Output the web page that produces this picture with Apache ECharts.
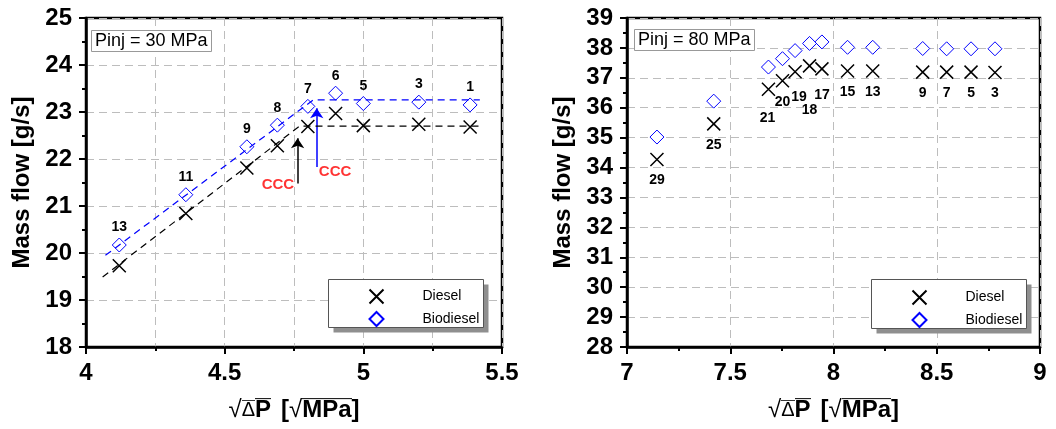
<!DOCTYPE html>
<html>
<head>
<meta charset="utf-8">
<script src="https://cdn.jsdelivr.net/npm/echarts@6/dist/echarts.min.js"></script>
<style>
  html, body { margin: 0; padding: 0; background: #fff; }
  #chart { width: 1056px; height: 429px; }
</style>
</head>
<body>
<div id="chart"></div>
<script>
// Pinj = 30 MPa
const runs30 = [13, 11, 9, 8, 7, 6, 5, 3, 1]
const dp30 = [4.12, 4.36, 4.58, 4.69, 4.80, 4.90, 5.00, 5.20, 5.385]
const diesel30 = [19.73, 20.84, 21.81, 22.28, 22.69, 22.97, 22.71, 22.74, 22.68]
const biodiesel30 = [20.17, 21.24, 22.26, 22.72, 23.12, 23.40, 23.18, 23.21, 23.15]
// dashed trend lines
const dieselTrendX = [4.06, 4.77, 5.43]
const dieselTrendY = [19.49, 22.70, 22.70]
const bioTrendX = [4.07, 4.82, 5.42]
const bioTrendY = [19.95, 23.26, 23.26]
// CCC arrows (diesel, biodiesel)
const cccArrowX = [4.763, 4.832]
const cccArrowFrom = [21.48, 21.83]
const cccArrowTo = [22.44, 23.08]
const cccLabelX = [4.692, 4.898]
const cccLabelY = [21.44, 21.73]

// Pinj = 80 MPa
const runs80 = [29, 25, 21, 20, 19, 18, 17, 15, 13, 9, 7, 5, 3]
const dp80 = [7.145, 7.42, 7.685, 7.753, 7.814, 7.884, 7.944, 8.068, 8.19, 8.432, 8.548, 8.666, 8.782]
const diesel80 = [34.27, 35.46, 36.62, 36.90, 37.20, 37.40, 37.30, 37.23, 37.23, 37.19, 37.19, 37.19, 37.18]
const biodiesel80 = [35.02, 36.22, 37.36, 37.64, 37.91, 38.15, 38.20, 38.02, 38.02, 37.98, 37.97, 37.97, 37.97]

const FONT = 'Liberation Sans, Arial, sans-serif'
const CROSS = 'path://M0,0L10,10M10,0L0,10'
const gridLine = { show: true, lineStyle: { color: '#bdbdbd', type: [8, 5], width: 1 } }
// nudge a few crowded run labels (80 MPa)
const labelNudge = { 21: [-1, 8], 19: [4, 4], 18: [0, 23], 17: [0, 5] }

function zip(xs, ys) {
  return xs.map((x, i) => [x, ys[i]])
}

// overline for the square-root sign: stretched 1px-wide canvas, line on top
const vinculum = document.createElement('canvas')
vinculum.width = 1
vinculum.height = 34
const vctx = vinculum.getContext('2d')
vctx.fillStyle = '#000'
vctx.fillRect(0, 0, 1, 1.3)

function valueAxis(idx, min, max, interval, extra) {
  return Object.assign({
    type: 'value',
    gridIndex: idx,
    min: min,
    max: max,
    interval: interval,
    axisLine: { show: true, onZero: false, lineStyle: { color: '#000', width: 2.5 } },
    axisTick: { show: true, length: 7, lineStyle: { color: '#000', width: 2 } },
    minorTick: { show: true, splitNumber: 2, length: 4, lineStyle: { color: '#000', width: 2 } },
    axisLabel: { color: '#000', fontSize: 24, fontWeight: 'bold', fontFamily: FONT, margin: 14 },
    splitLine: gridLine
  }, extra)
}

const ov = { backgroundColor: { image: vinculum }, lineHeight: 34, color: '#000', fontFamily: FONT }
const xName = {
  name: '{r|√}{od|Δ}{ob|P}   {b|[}{r|√}{ob|MPa}{b|]}',
  nameLocation: 'middle',
  nameGap: 46,
  nameTextStyle: {
    rich: {
      r: { fontSize: 24, lineHeight: 34, fontFamily: FONT, color: '#000' },
      od: Object.assign({ fontSize: 20 }, ov),
      ob: Object.assign({ fontSize: 24, fontWeight: 'bold' }, ov),
      b: { fontSize: 24, lineHeight: 34, fontFamily: FONT, fontWeight: 'bold', color: '#000' }
    }
  }
}
const yName = {
  name: 'Mass flow [g/s]',
  nameLocation: 'middle',
  nameGap: 52,
  nameTextStyle: { fontSize: 24, fontWeight: 'bold', fontFamily: FONT, color: '#000' }
}

function legendItems(left, top) {
  return {
    data: ['Diesel', 'Biodiesel'],
    orient: 'vertical',
    left: left,
    top: top,
    padding: 0,
    itemWidth: 14,
    itemHeight: 14,
    itemGap: 5,
    textStyle: { fontSize: 14, fontFamily: FONT, color: '#000', padding: [0, 0, 0, 34] }
  }
}

function legendFrame(x, y, w, h) {
  return [
    { type: 'rect', z: 3, shape: { x: x + 5, y: y + 5, width: w, height: h }, style: { fill: '#8f8f8f' } },
    { type: 'rect', z: 3, shape: { x: x, y: y, width: w, height: h }, style: { fill: '#fff', stroke: '#555', lineWidth: 1 } }
  ]
}

function pinjBox(text, left, top) {
  return {
    text: text,
    left: left,
    top: top,
    padding: [2, 4, 2, 4],
    backgroundColor: '#fff',
    borderColor: '#999',
    borderWidth: 1,
    textStyle: { fontSize: 18, fontWeight: 'normal', fontFamily: FONT, color: '#000' }
  }
}

const runLabel = { fontSize: 14, fontWeight: 'bold', fontFamily: FONT, color: '#000' }

const chart = echarts.init(document.getElementById('chart'))
chart.setOption({
  animation: false,
  title: [pinjBox('Pinj = 30 MPa', 91, 30), pinjBox('Pinj = 80 MPa', 634, 29)],
  legend: [legendItems(367, 287), legendItems(910, 288)],
  graphic: legendFrame(328.5, 279.5, 155, 48).concat(legendFrame(871.5, 279.5, 155, 49)),
  grid: [
    { left: 86, top: 18, width: 416, height: 329, show: true, borderColor: '#000', borderWidth: 2.5 },
    { left: 627, top: 18, width: 413, height: 329, show: true, borderColor: '#000', borderWidth: 2.5 }
  ],
  xAxis: [
    valueAxis(0, 4, 5.5, 0.5, Object.assign({ minorSplitLine: gridLine }, xName)),
    valueAxis(1, 7, 9, 0.5, xName)
  ],
  yAxis: [
    valueAxis(0, 18, 25, 1, yName),
    valueAxis(1, 28, 39, 1, yName)
  ],
  series: [
    {
      name: 'Diesel trend', type: 'line', xAxisIndex: 0, yAxisIndex: 0,
      data: zip(dieselTrendX, dieselTrendY), symbol: 'none',
      lineStyle: { color: '#000', width: 1.2, type: [7, 5] }
    },
    {
      name: 'Biodiesel trend', type: 'line', xAxisIndex: 0, yAxisIndex: 0,
      data: zip(bioTrendX, bioTrendY), symbol: 'none',
      lineStyle: { color: '#0000ff', width: 1.2, type: [7, 5] }
    },
    {
      name: 'Diesel', type: 'scatter', xAxisIndex: 0, yAxisIndex: 0,
      data: zip(dp30, diesel30), symbol: CROSS, symbolSize: 13,
      itemStyle: { color: 'none', borderColor: '#000', borderWidth: 1.5, opacity: 1 }
    },
    {
      name: 'Biodiesel', type: 'scatter', xAxisIndex: 0, yAxisIndex: 0,
      data: zip(dp30, biodiesel30), symbol: 'diamond', symbolSize: 14,
      itemStyle: { color: '#fff', borderColor: '#0000ff', borderWidth: 1, opacity: 1 },
      label: {
        show: true, position: 'top', distance: 3,
        formatter: p => runs30[p.dataIndex], ...runLabel
      }
    },
    {
      name: 'CCC', type: 'lines', coordinateSystem: 'cartesian2d', xAxisIndex: 0, yAxisIndex: 0,
      symbol: ['none', 'arrow'], symbolSize: 10,
      data: cccArrowX.map((x, i) => ({
        coords: [[x, cccArrowFrom[i]], [x, cccArrowTo[i]]],
        lineStyle: { color: i === 0 ? '#000' : '#0000ff', width: 1.5 }
      })),
      lineStyle: { opacity: 1, curveness: 0 }
    },
    {
      name: 'CCC label', type: 'scatter', xAxisIndex: 0, yAxisIndex: 0,
      data: zip(cccLabelX, cccLabelY), symbolSize: 1,
      itemStyle: { color: 'transparent' },
      label: {
        show: true, position: 'inside', formatter: 'CCC',
        fontSize: 15, fontWeight: 'bold', fontFamily: FONT, color: '#ff0000'
      }
    },
    {
      name: 'Diesel', type: 'scatter', xAxisIndex: 1, yAxisIndex: 1,
      data: dp80.map((x, i) => ({
        value: [x, diesel80[i]],
        label: { offset: labelNudge[runs80[i]] || [0, 0] }
      })),
      symbol: CROSS, symbolSize: 13,
      itemStyle: { color: 'none', borderColor: '#000', borderWidth: 1.5, opacity: 1 },
      label: {
        show: true, position: 'bottom', distance: 5,
        formatter: p => runs80[p.dataIndex], ...runLabel
      }
    },
    {
      name: 'Biodiesel', type: 'scatter', xAxisIndex: 1, yAxisIndex: 1,
      data: zip(dp80, biodiesel80), symbol: 'diamond', symbolSize: 14,
      itemStyle: { color: '#fff', borderColor: '#0000ff', borderWidth: 1, opacity: 1 }
    }
  ]
})
</script>
</body>
</html>
